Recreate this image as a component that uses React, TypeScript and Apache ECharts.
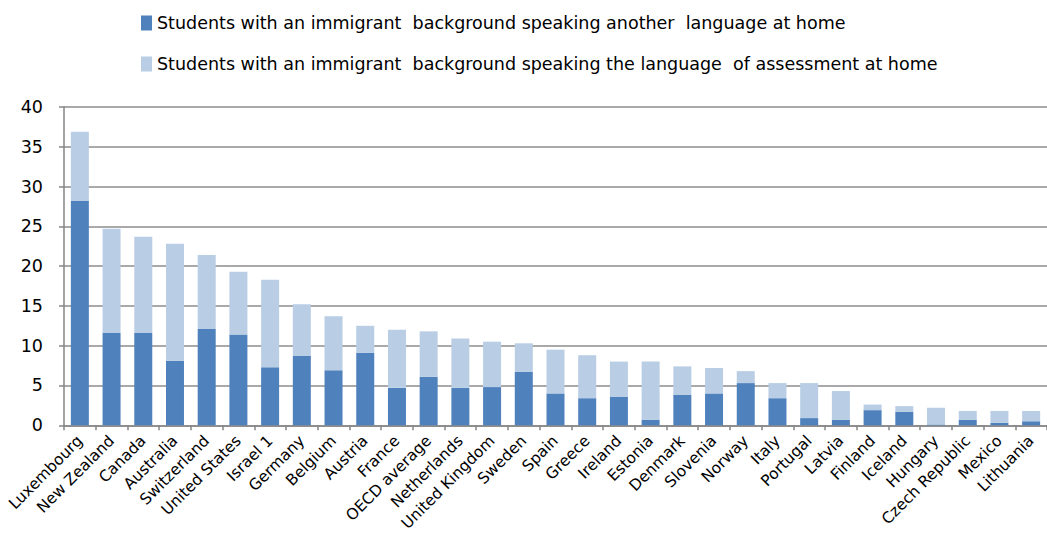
import React, { useEffect, useRef } from "react";
import * as echarts from "echarts";

const categories = [
  "Luxembourg", "New Zealand", "Canada", "Australia", "Switzerland", "United States",
  "Israel 1", "Germany", "Belgium", "Austria", "France", "OECD average", "Netherlands",
  "United Kingdom", "Sweden", "Spain", "Greece", "Ireland", "Estonia", "Denmark",
  "Slovenia", "Norway", "Italy", "Portugal", "Latvia", "Finland", "Iceland", "Hungary",
  "Czech Republic", "Mexico", "Lithuania",
];

const anotherLanguage = [
  28.2, 11.6, 11.6, 8.1, 12.1, 11.4, 7.3, 8.7, 6.9, 9.1, 4.7, 6.1, 4.7, 4.8, 6.7, 4.0,
  3.4, 3.6, 0.7, 3.8, 4.0, 5.3, 3.4, 0.9, 0.7, 1.9, 1.7, 0.1, 0.7, 0.3, 0.5,
];

const assessmentLanguage = [
  8.7, 13.1, 12.1, 14.7, 9.3, 7.9, 11.0, 6.5, 6.8, 3.4, 7.3, 5.7, 6.2, 5.7, 3.6, 5.5,
  5.4, 4.4, 7.3, 3.6, 3.2, 1.5, 1.9, 4.4, 3.6, 0.7, 0.7, 2.1, 1.1, 1.5, 1.3,
];

const seriesNames = [
  "Students with an immigrant  background speaking another  language at home",
  "Students with an immigrant  background speaking the language  of assessment at home",
];

const FONT = "DejaVu Sans";

export default function App() {
  const ref = useRef<HTMLDivElement>(null);
  useEffect(() => {
    if (!ref.current) return;
    const chart = echarts.init(ref.current, undefined, { renderer: "svg" });
    chart.setOption({
      animation: false,
      backgroundColor: "#ffffff",
      legend: {
        orient: "vertical",
        left: 141,
        top: 14,
        padding: 0,
        itemGap: 23,
        itemWidth: 11,
        itemHeight: 15,
        icon: "rect",
        textStyle: { fontFamily: FONT, fontSize: 17.5, color: "#000" },
        data: seriesNames,
      },
      grid: { left: 64, right: -8, top: 107, bottom: 106, containLabel: false },
      xAxis: {
        type: "category",
        data: categories,
        boundaryGap: true,
        axisLine: { show: true, lineStyle: { color: "#868686", width: 1.5 } },
        axisTick: { show: true, length: 5, interval: 0, lineStyle: { color: "#868686", width: 1.5 } },
        axisLabel: {
          interval: 0,
          rotate: 45,
          margin: 13,
          fontFamily: FONT,
          fontSize: 15.5,
          color: "#000",
        },
      },
      yAxis: {
        type: "value",
        min: 0,
        max: 40,
        interval: 5,
        axisLine: { show: true, lineStyle: { color: "#868686", width: 1.5 } },
        axisTick: { show: true, length: 5, lineStyle: { color: "#868686", width: 1.5 } },
        axisLabel: { fontFamily: FONT, fontSize: 17.5, color: "#000", margin: 21 },
        splitLine: { show: true, lineStyle: { color: "#8C8C8C", width: 1.5 } },
      },
      series: [
        {
          name: seriesNames[0],
          type: "bar",
          stack: "total",
          barWidth: 18,
          data: anotherLanguage,
          itemStyle: { color: "#4F81BD" },
        },
        {
          name: seriesNames[1],
          type: "bar",
          stack: "total",
          barWidth: 18,
          data: assessmentLanguage,
          itemStyle: { color: "#B9CDE5" },
        },
      ],
    });
    return () => chart.dispose();
  }, []);
  return (
    <div
      ref={ref}
      style={{ position: "absolute", left: 0, top: 0, width: 1047, height: 534 }}
    />
  );
}
